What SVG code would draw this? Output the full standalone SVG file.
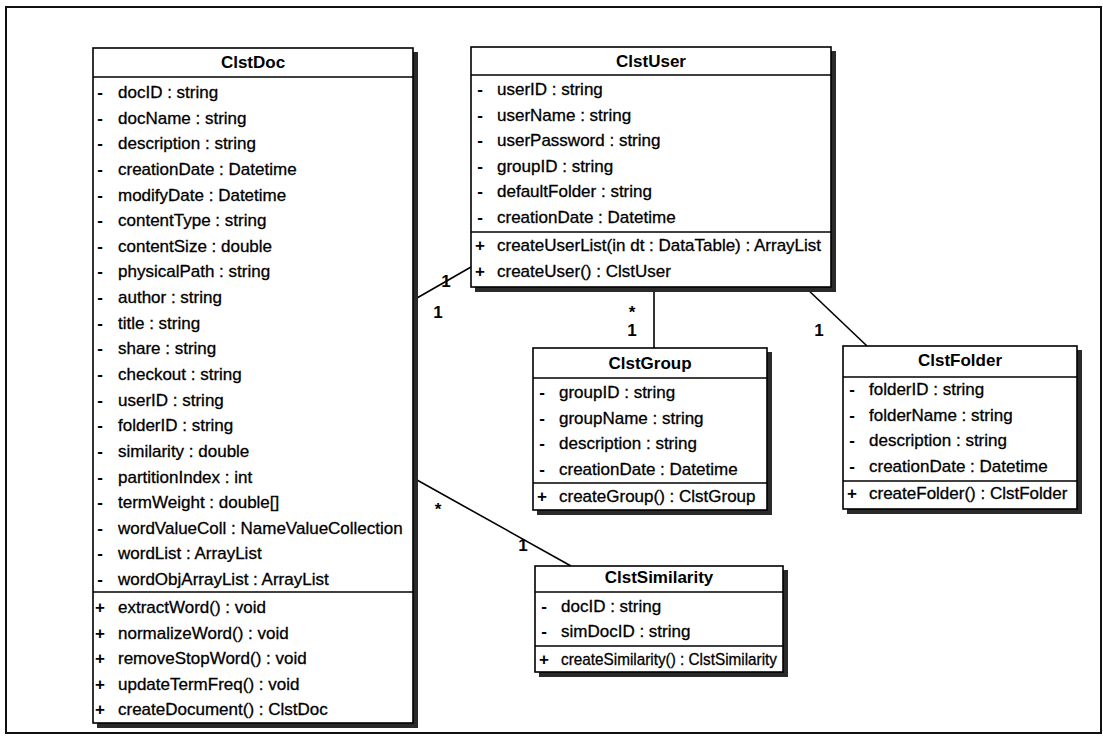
<svg xmlns="http://www.w3.org/2000/svg" width="1103" height="746" viewBox="0 0 1103 746">
  <style>
    .frame { fill: none; stroke: #111; stroke-width: 2; }
    .box { fill: #fff; stroke: #000; stroke-width: 1.6; }
    .shadow { fill: #2a2a2a; }
    .sep { stroke: #000; stroke-width: 1.4; }
    .title { font-family: "Liberation Sans", Arial, sans-serif; font-size: 17px; font-weight: bold; fill: #000; text-anchor: middle; }
    .row { font-family: "Liberation Sans", Arial, sans-serif; font-size: 17px; fill: #000; stroke: #000; stroke-width: 0.3; }
    .sign { font-family: "Liberation Sans", Arial, sans-serif; font-size: 17px; font-weight: bold; fill: #000; text-anchor: middle; }
    .conn { fill: none; stroke: #000; stroke-width: 1.6; }
    .mult { font-family: "Liberation Sans", Arial, sans-serif; font-size: 17px; font-weight: bold; fill: #000; text-anchor: middle; }
  </style>

  <rect x="0" y="0" width="1103" height="746" fill="#fff"/>
  <rect class="frame" x="6" y="7" width="1095" height="726"/>

  <!-- associations -->
  <g id="connectors">
    <line class="conn" x1="417" y1="298" x2="471" y2="267"/>
    <line class="conn" x1="654" y1="287" x2="654" y2="348"/>
    <line class="conn" x1="805" y1="287" x2="867" y2="346"/>
    <line class="conn" x1="417" y1="480" x2="571" y2="566"/>
    <text class="mult" x="446" y="287">1</text>
    <text class="mult" x="438" y="318">1</text>
    <text class="mult" x="632" y="318">*</text>
    <text class="mult" x="632" y="336">1</text>
    <text class="mult" x="819" y="336">1</text>
    <text class="mult" x="438" y="515">*</text>
    <text class="mult" x="523" y="551">1</text>
  </g>

  <!-- ClstDoc -->
  <g id="ClstDoc">
    <rect class="shadow" x="97" y="52" width="321" height="676"/>
    <rect class="box" x="93" y="48" width="320" height="675"/>
    <line class="sep" x1="93" y1="77" x2="413" y2="77"/>
    <line class="sep" x1="93" y1="592" x2="413" y2="592"/>
    <text class="title" x="253" y="68">ClstDoc</text>
    <g class="sign">
      <text x="100" y="98">-</text><text x="100" y="123.6">-</text><text x="100" y="149.3">-</text><text x="100" y="174.9">-</text>
      <text x="100" y="200.5">-</text><text x="100" y="226.2">-</text><text x="100" y="251.8">-</text><text x="100" y="277.4">-</text>
      <text x="100" y="303">-</text><text x="100" y="328.7">-</text><text x="100" y="354.3">-</text><text x="100" y="379.9">-</text>
      <text x="100" y="405.6">-</text><text x="100" y="431.2">-</text><text x="100" y="456.8">-</text><text x="100" y="482.5">-</text>
      <text x="100" y="508.1">-</text><text x="100" y="533.7">-</text><text x="100" y="559.3">-</text><text x="100" y="585">-</text>
      <text x="100" y="613">+</text><text x="100" y="638.5">+</text><text x="100" y="664">+</text><text x="100" y="689.5">+</text><text x="100" y="715">+</text>
    </g>
    <g class="row">
      <text x="118" y="98">docID : string</text>
      <text x="118" y="123.6">docName : string</text>
      <text x="118" y="149.3">description : string</text>
      <text x="118" y="174.9">creationDate : Datetime</text>
      <text x="118" y="200.5">modifyDate : Datetime</text>
      <text x="118" y="226.2">contentType : string</text>
      <text x="118" y="251.8">contentSize : double</text>
      <text x="118" y="277.4">physicalPath : string</text>
      <text x="118" y="303">author : string</text>
      <text x="118" y="328.7">title : string</text>
      <text x="118" y="354.3">share : string</text>
      <text x="118" y="379.9">checkout : string</text>
      <text x="118" y="405.6">userID : string</text>
      <text x="118" y="431.2">folderID : string</text>
      <text x="118" y="456.8">similarity : double</text>
      <text x="118" y="482.5">partitionIndex : int</text>
      <text x="118" y="508.1">termWeight : double[]</text>
      <text x="118" y="533.7">wordValueColl : NameValueCollection</text>
      <text x="118" y="559.3">wordList : ArrayList</text>
      <text x="118" y="585">wordObjArrayList : ArrayList</text>
      <text x="118" y="613">extractWord() : void</text>
      <text x="118" y="638.5">normalizeWord() : void</text>
      <text x="118" y="664">removeStopWord() : void</text>
      <text x="118" y="689.5">updateTermFreq() : void</text>
      <text x="118" y="715">createDocument() : ClstDoc</text>
    </g>
  </g>

  <!-- ClstUser -->
  <g id="ClstUser">
    <rect class="shadow" x="475" y="51" width="361" height="241"/>
    <rect class="box" x="471" y="47" width="360" height="240"/>
    <line class="sep" x1="471" y1="75" x2="831" y2="75"/>
    <line class="sep" x1="471" y1="232" x2="831" y2="232"/>
    <text class="title" x="651" y="67">ClstUser</text>
    <g class="sign">
      <text x="480" y="95">-</text><text x="480" y="120.6">-</text><text x="480" y="146.2">-</text>
      <text x="480" y="171.8">-</text><text x="480" y="197.4">-</text><text x="480" y="223">-</text>
      <text x="480" y="251">+</text><text x="480" y="276.5">+</text>
    </g>
    <g class="row">
      <text x="497" y="95">userID : string</text>
      <text x="497" y="120.6">userName : string</text>
      <text x="497" y="146.2">userPassword : string</text>
      <text x="497" y="171.8">groupID : string</text>
      <text x="497" y="197.4">defaultFolder : string</text>
      <text x="497" y="223">creationDate : Datetime</text>
      <text x="497" y="251">createUserList(in dt : DataTable) : ArrayList</text>
      <text x="497" y="276.5">createUser() : ClstUser</text>
    </g>
  </g>

  <!-- ClstGroup -->
  <g id="ClstGroup">
    <rect class="shadow" x="537" y="352" width="235" height="163"/>
    <rect class="box" x="533" y="348" width="234" height="162"/>
    <line class="sep" x1="533" y1="378" x2="767" y2="378"/>
    <line class="sep" x1="533" y1="483" x2="767" y2="483"/>
    <text class="title" x="650" y="369">ClstGroup</text>
    <g class="sign">
      <text x="542" y="398">-</text><text x="542" y="423.5">-</text><text x="542" y="449">-</text><text x="542" y="474.5">-</text>
      <text x="542" y="502">+</text>
    </g>
    <g class="row">
      <text x="559" y="398">groupID : string</text>
      <text x="559" y="423.5">groupName : string</text>
      <text x="559" y="449">description : string</text>
      <text x="559" y="474.5">creationDate : Datetime</text>
      <text x="559" y="502">createGroup() : ClstGroup</text>
    </g>
  </g>

  <!-- ClstFolder -->
  <g id="ClstFolder">
    <rect class="shadow" x="847" y="350" width="235" height="164"/>
    <rect class="box" x="843" y="346" width="234" height="163"/>
    <line class="sep" x1="843" y1="377" x2="1077" y2="377"/>
    <line class="sep" x1="843" y1="481" x2="1077" y2="481"/>
    <text class="title" x="960" y="366">ClstFolder</text>
    <g class="sign">
      <text x="852" y="395">-</text><text x="852" y="420.5">-</text><text x="852" y="446">-</text><text x="852" y="471.5">-</text>
      <text x="852" y="499">+</text>
    </g>
    <g class="row">
      <text x="869" y="395">folderID : string</text>
      <text x="869" y="420.5">folderName : string</text>
      <text x="869" y="446">description : string</text>
      <text x="869" y="471.5">creationDate : Datetime</text>
      <text x="869" y="499">createFolder() : ClstFolder</text>
    </g>
  </g>

  <!-- ClstSimilarity -->
  <g id="ClstSimilarity">
    <rect class="shadow" x="539" y="570" width="249" height="107"/>
    <rect class="box" x="535" y="566" width="248" height="106"/>
    <line class="sep" x1="535" y1="592" x2="783" y2="592"/>
    <line class="sep" x1="535" y1="646" x2="783" y2="646"/>
    <text class="title" x="659" y="583">ClstSimilarity</text>
    <g class="sign">
      <text x="544" y="612">-</text><text x="544" y="637">-</text><text x="544" y="665">+</text>
    </g>
    <g class="row">
      <text x="561" y="612">docID : string</text>
      <text x="561" y="637">simDocID : string</text>
      <text x="561" y="665" textLength="216" lengthAdjust="spacingAndGlyphs">createSimilarity() : ClstSimilarity</text>
    </g>
  </g>
</svg>
